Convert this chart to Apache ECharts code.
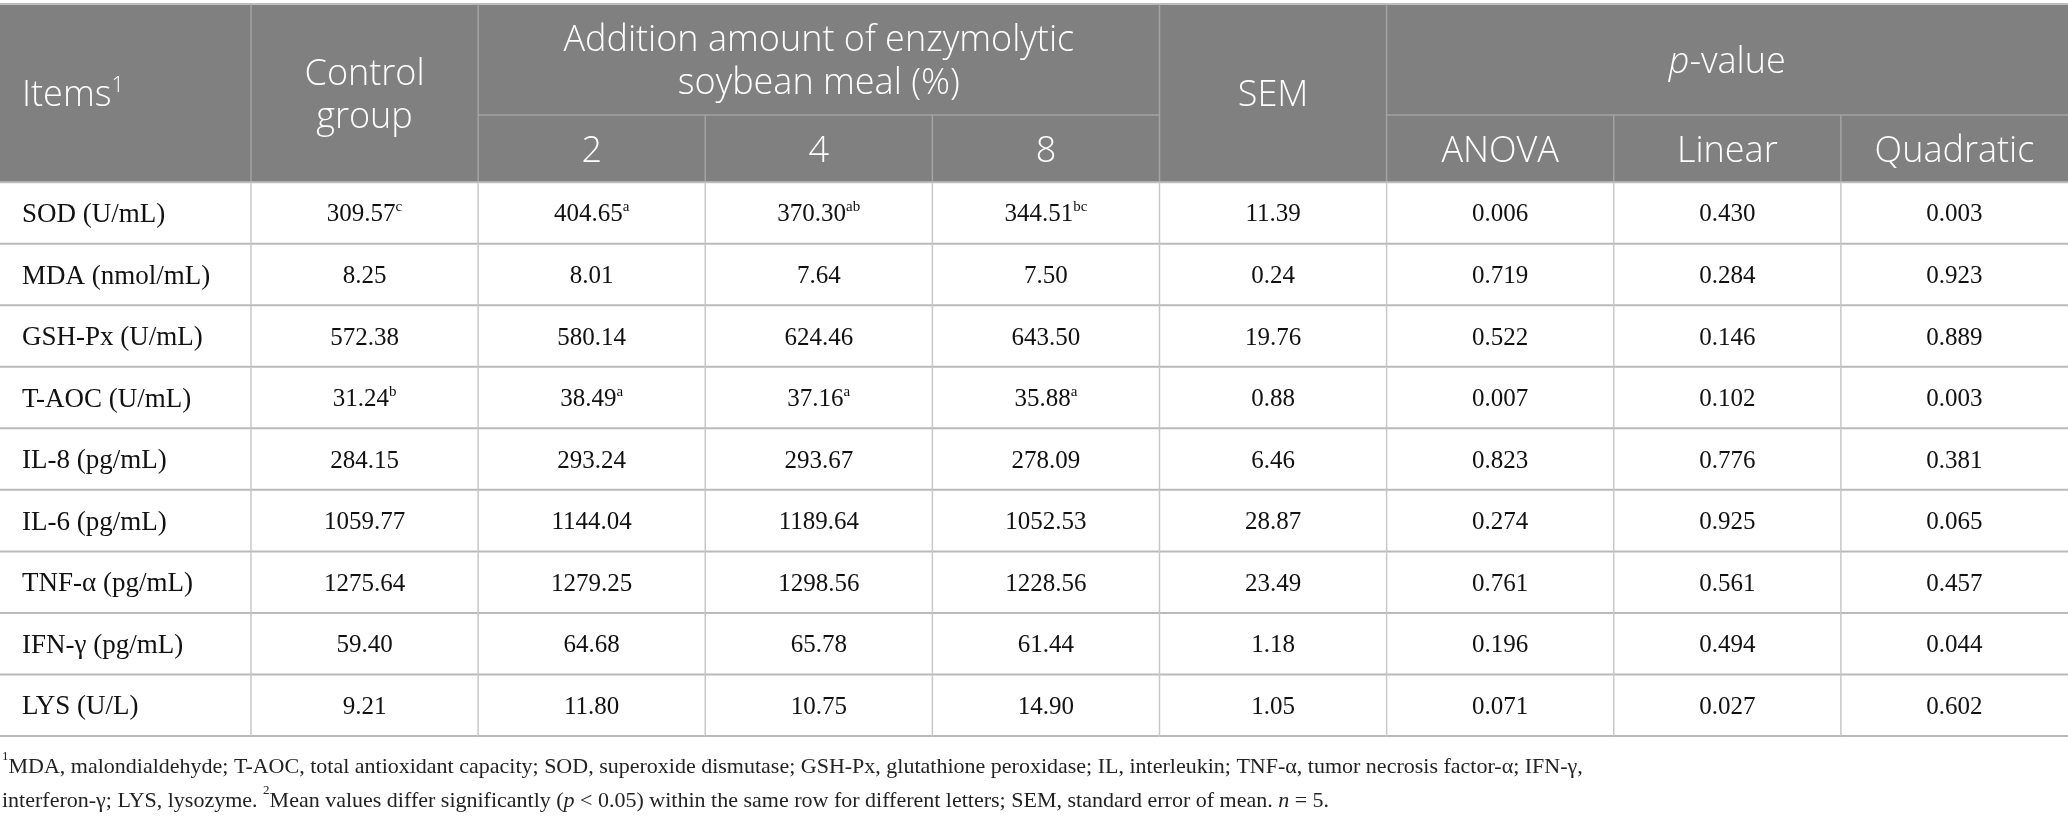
<!DOCTYPE html>
<html><head><meta charset="utf-8">
<script src="https://cdn.jsdelivr.net/npm/echarts@6/dist/echarts.min.js"></script>
<style>html,body{margin:0;padding:0;background:#fff}#c{width:2068px;height:828px}</style>
</head><body><div id="c"></div>
<script>
// ---------- data ----------
const rowLabels = ['SOD (U/mL)', 'MDA (nmol/mL)', 'GSH-Px (U/mL)', 'T-AOC (U/mL)', 'IL-8 (pg/mL)', 'IL-6 (pg/mL)', 'TNF-α (pg/mL)', 'IFN-γ (pg/mL)', 'LYS (U/L)'];
const controlGroup = [309.57, 8.25, 572.38, 31.24, 284.15, 1059.77, 1275.64, 59.40, 9.21];
const controlLetters = ['c', '', '', 'b', '', '', '', '', ''];
const esm2 = [404.65, 8.01, 580.14, 38.49, 293.24, 1144.04, 1279.25, 64.68, 11.80];
const esm2Letters = ['a', '', '', 'a', '', '', '', '', ''];
const esm4 = [370.30, 7.64, 624.46, 37.16, 293.67, 1189.64, 1298.56, 65.78, 10.75];
const esm4Letters = ['ab', '', '', 'a', '', '', '', '', ''];
const esm8 = [344.51, 7.50, 643.50, 35.88, 278.09, 1052.53, 1228.56, 61.44, 14.90];
const esm8Letters = ['bc', '', '', 'a', '', '', '', '', ''];
const sem = [11.39, 0.24, 19.76, 0.88, 6.46, 28.87, 23.49, 1.18, 1.05];
const pAnova = [0.006, 0.719, 0.522, 0.007, 0.823, 0.274, 0.761, 0.196, 0.071];
const pLinear = [0.430, 0.284, 0.146, 0.102, 0.776, 0.925, 0.561, 0.494, 0.027];
const pQuadratic = [0.003, 0.923, 0.889, 0.003, 0.381, 0.065, 0.457, 0.044, 0.602];

const headItems = '{h|Items}{hs|1}';
const headControl = 'Control\ngroup';
const headAddition = 'Addition amount of enzymolytic\nsoybean meal (%)';
const addLevels = ['2', '4', '8'];
const headSEM = 'SEM';
const headP = '{hi|p}{h|-value}';
const pTests = ['ANOVA', 'Linear', 'Quadratic'];

const footLine1 = '{fs|1}{f|MDA, malondialdehyde; T-AOC, total antioxidant capacity; SOD, superoxide dismutase; GSH-Px, glutathione peroxidase; IL, interleukin; TNF-α, tumor necrosis factor-α; IFN-γ,}';
const footLine2 = '{f|interferon-γ; LYS, lysozyme. }{fs|2}{f|Mean values differ significantly (}{fi|p}{f| < 0.05) within the same row for different letters; SEM, standard error of mean. }{fi|n}{f| = 5.}';

// ---------- layout (units) ----------
const colUnits = [1.105, 1, 1, 1, 1, 1, 1, 1, 1];
const headUnits = [1.805, 1.09];
const colEdges = [0]; colUnits.forEach(u => colEdges.push(colEdges[colEdges.length - 1] + u));
const rowEdges = [0]; headUnits.forEach(u => rowEdges.push(rowEdges[rowEdges.length - 1] + u));
rowLabels.forEach(() => rowEdges.push(rowEdges[rowEdges.length - 1] + 1));

const SERIF = '"Liberation Serif", "Times New Roman", serif';
const SANS = '"Open Sans", "Noto Sans", sans-serif';

// ---------- cells ----------
const cells = [];
cells.push({c0: 0, c1: 1, r0: 0, r1: 2, head: true, text: headItems, align: 'left'});
cells.push({c0: 1, c1: 2, r0: 0, r1: 2, head: true, text: headControl});
cells.push({c0: 2, c1: 5, r0: 0, r1: 1, head: true, text: headAddition});
addLevels.forEach((t, i) => cells.push({c0: 2 + i, c1: 3 + i, r0: 1, r1: 2, head: true, text: t}));
cells.push({c0: 5, c1: 6, r0: 0, r1: 2, head: true, text: headSEM});
cells.push({c0: 6, c1: 9, r0: 0, r1: 1, head: true, text: headP});
pTests.forEach((t, i) => cells.push({c0: 6 + i, c1: 7 + i, r0: 1, r1: 2, head: true, text: t}));

function withSup(v, s) { return '{v|' + v.toFixed(2) + '}' + (s ? '{s|' + s + '}' : ''); }
rowLabels.forEach((lab, r) => {
  const r0 = 2 + r, r1 = 3 + r;
  const vals = [
    '{l|' + lab + '}',
    withSup(controlGroup[r], controlLetters[r]),
    withSup(esm2[r], esm2Letters[r]),
    withSup(esm4[r], esm4Letters[r]),
    withSup(esm8[r], esm8Letters[r]),
    '{v|' + sem[r].toFixed(2) + '}',
    '{v|' + pAnova[r].toFixed(3) + '}',
    '{v|' + pLinear[r].toFixed(3) + '}',
    '{v|' + pQuadratic[r].toFixed(3) + '}'
  ];
  vals.forEach((t, c) => cells.push({c0: c, c1: c + 1, r0: r0, r1: r1, head: false, text: t, align: c === 0 ? 'left' : 'center'}));
});

const richHead = {
  h: {fontFamily: SANS, fontWeight: 300, fontSize: 36, fill: '#ffffff', lineHeight: 43},
  hs: {fontFamily: SANS, fontWeight: 300, fontSize: 22, fill: '#ffffff', lineHeight: 30, verticalAlign: 'top'},
  hi: {fontFamily: SANS, fontWeight: 300, fontSize: 36, fill: '#ffffff', fontStyle: 'italic', lineHeight: 43}
};
const richBody = {
  l: {fontFamily: SERIF, fontSize: 27, fill: '#111111', lineHeight: 30},
  v: {fontFamily: SERIF, fontSize: 25, fill: '#111111', lineHeight: 30},
  s: {fontFamily: SERIF, fontSize: 15, fill: '#111111', lineHeight: 18, verticalAlign: 'top'}
};

function renderItem(params, api) {
  const cell = cells[params.dataIndex];
  const p0 = api.coord([colEdges[cell.c0], rowEdges[cell.r0]]);
  const p1 = api.coord([colEdges[cell.c1], rowEdges[cell.r1]]);
  const x = p0[0], y = p0[1], w = p1[0] - p0[0], h = p1[1] - p0[1];
  const children = [];
  children.push({type: 'rect', z2: 0, shape: {x: x, y: y, width: w, height: h},
    style: {fill: cell.head ? '#7f807f' : '#ffffff'}});
  const hCol = cell.head ? (cell.r1 === 2 ? '#bdbdbd' : '#a3a3a3') : '#bababa';
  const vCol = cell.head ? '#a3a3a3' : '#c8c8c8';
  children.push({type: 'line', z2: 10, shape: {x1: x, y1: y + h, x2: x + w, y2: y + h},
    style: {stroke: hCol, lineWidth: cell.head ? (cell.r1 === 2 ? 2 : 1.5) : 2}});
  if (cell.head && cell.r0 === 0) {
    children.push({type: 'line', z2: 10, shape: {x1: x, y1: y, x2: x + w, y2: y},
      style: {stroke: '#bdbdbd', lineWidth: 2}});
  }
  if (cell.c1 < colUnits.length) {
    children.push({type: 'line', z2: 10, shape: {x1: x + w, y1: y, x2: x + w, y2: y + h},
      style: {stroke: vCol, lineWidth: 1.5}});
  }
  const left = cell.align === 'left';
  children.push({type: 'text', z2: 20, x: left ? x + 22 : x + w / 2, y: y + h / 2 + (cell.head ? 3 : 2),
    style: {
      text: cell.text,
      rich: cell.head ? richHead : richBody,
      fontFamily: cell.head ? SANS : SERIF,
      fontWeight: cell.head ? 300 : 'normal',
      fontSize: cell.head ? 36 : 25,
      lineHeight: cell.head ? 43 : 30,
      fill: cell.head ? '#ffffff' : '#111111',
      align: left ? 'left' : 'center',
      verticalAlign: 'middle'
    }});
  return {type: 'group', children: children};
}

const chart = echarts.init(document.getElementById('c'), null, {renderer: 'canvas'});
chart.setOption({
  animation: false,
  backgroundColor: '#ffffff',
  grid: {left: 0, right: 0, top: 4, bottom: 92, containLabel: false},
  xAxis: {type: 'value', min: 0, max: colEdges[colEdges.length - 1], show: false},
  yAxis: {type: 'value', min: 0, max: rowEdges[rowEdges.length - 1], inverse: true, show: false},
  series: [{
    type: 'custom',
    renderItem: renderItem,
    data: cells.map(c => [colEdges[c.c0], rowEdges[c.r0]]),
    encode: {x: 0, y: 1},
    silent: true
  }],
  graphic: [{
    type: 'text', left: 2, top: 750,
    style: {
      text: footLine1 + '\n' + footLine2,
      fontFamily: SERIF, fontSize: 22, lineHeight: 34, fill: '#222222',
      rich: {
        f: {fontFamily: SERIF, fontSize: 22, fill: '#222222', lineHeight: 34},
        fi: {fontFamily: SERIF, fontSize: 22, fill: '#222222', fontStyle: 'italic', lineHeight: 34},
        fs: {fontFamily: SERIF, fontSize: 13, fill: '#222222', lineHeight: 24, verticalAlign: 'top'}
      }
    }
  }]
});
</script></body></html>
